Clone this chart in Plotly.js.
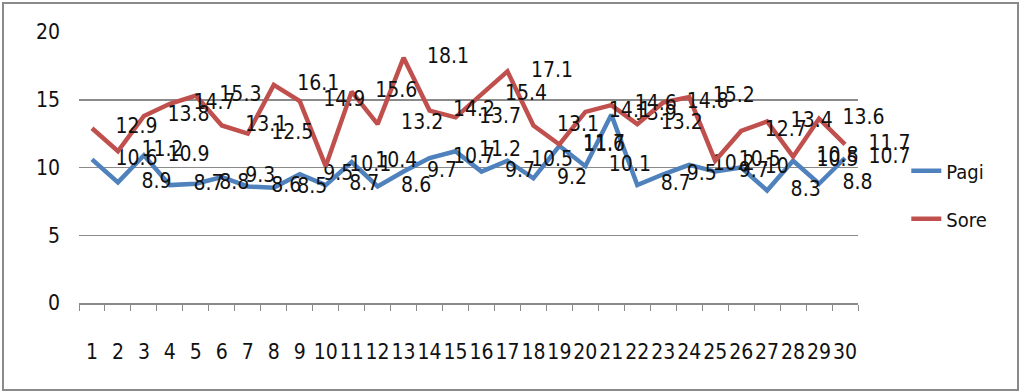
<!DOCTYPE html>
<html>
<head>
<meta charset="utf-8">
<script src="https://cdn.plot.ly/plotly-3.0.1.min.js"></script>
<style>
  html, body { margin: 0; padding: 0; background: #fff; }
  #wrap { position: relative; width: 1024px; height: 391px; }
  #chart { position: absolute; left: 0; top: 0; width: 1024px; height: 391px; }
  #frame { position: absolute; left: 2px; top: 2px; width: 1013px; height: 385px;
           border: 2px solid #8a8a8a; pointer-events: none; }
</style>
</head>
<body>
<div id="wrap">
  <div id="chart"></div>
  <div id="frame"></div>
</div>
<script>
const days = ['1','2','3','4','5','6','7','8','9','10','11','12','13','14','15',
              '16','17','18','19','20','21','22','23','24','25','26','27','28','29','30'];
const pagi = [10.6, 8.9, 10.9, 8.7, 8.8, 9.3, 8.6, 8.5, 9.5, 8.7,
              10.4, 8.6, 9.7, 10.7, 11.2, 9.7, 10.5, 9.2, 11.6, 10.1,
              13.9, 8.7, 9.5, 10.2, 9.7, 10.0, 8.3, 10.5, 8.8, 10.7];
const sore = [12.9, 11.2, 13.8, 14.7, 15.3, 13.1, 12.5, 16.1, 14.9, 10.1,
              15.6, 13.2, 18.1, 14.2, 13.7, 15.4, 17.1, 13.1, 11.7, 14.1,
              14.6, 13.2, 14.8, 15.2, 10.5, 12.7, 13.4, 10.8, 13.6, 11.7];
const seriesNames = ['Pagi', 'Sore'];
const yTicks = [0, 5, 10, 15, 20];

const FONT = '"DejaVu Sans Condensed", "Liberation Sans Narrow", "Arial Narrow", sans-serif';

function fmt(v) { return (Math.round(v * 10) / 10).toString(); }

const traces = [
  {
    x: days, y: pagi, name: seriesNames[0], type: 'scatter', mode: 'lines+markers+text',
    legendgroup: 'a',
    line: { color: '#4F81BD', width: 4.5 },
    marker: { size: 36, color: 'rgba(0,0,0,0)' },
    text: pagi.map(fmt), textposition: 'middle right',
    textfont: { family: FONT, size: 21, color: '#111' },
    cliponaxis: false, hoverinfo: 'skip'
  },
  {
    x: days, y: sore, name: seriesNames[1], type: 'scatter', mode: 'lines+markers+text',
    legendgroup: 'b',
    line: { color: '#C0504D', width: 4.5 },
    marker: { size: 36, color: 'rgba(0,0,0,0)' },
    text: sore.map(fmt), textposition: 'middle right',
    textfont: { family: FONT, size: 21, color: '#111' },
    cliponaxis: false, hoverinfo: 'skip'
  }
];

const layout = {
  width: 1024, height: 391,
  margin: { l: 79, r: 166, t: 32, b: 88 },
  paper_bgcolor: '#fff', plot_bgcolor: '#fff',
  font: { family: FONT, size: 21, color: '#111' },
  showlegend: true,
  legend: {
    x: 1.062, xanchor: 'left', y: 0.56, yanchor: 'top',
    font: { family: FONT, size: 20, color: '#111' },
    tracegroupgap: 19, bgcolor: 'rgba(0,0,0,0)'
  },
  xaxis: {
    type: 'category', categoryorder: 'array', categoryarray: days,
    tickmode: 'linear', dtick: 1, tick0: 0, tickangle: 0,
    showgrid: false, zeroline: false,
    showline: true, linecolor: '#8a8a8a', linewidth: 1.5,
    ticks: 'outside', tickson: 'boundaries', ticklen: 6, tickcolor: '#8a8a8a', tickwidth: 1,
    tickfont: { family: FONT, size: 21, color: '#111' },
    ticklabelstandoff: 29,
    range: [-0.5, 29.5], fixedrange: true
  },
  yaxis: {
    range: [0, 20], tickvals: yTicks, ticktext: yTicks.map(String),
    showgrid: true, gridcolor: '#8a8a8a', gridwidth: 1.5,
    zeroline: false, showline: false,
    ticks: '', tickfont: { family: FONT, size: 21, color: '#111' },
    ticklabelstandoff: 18, fixedrange: true
  }
};

Plotly.newPlot('chart', traces, layout, { displayModeBar: false, staticPlot: true });
</script>
</body>
</html>
